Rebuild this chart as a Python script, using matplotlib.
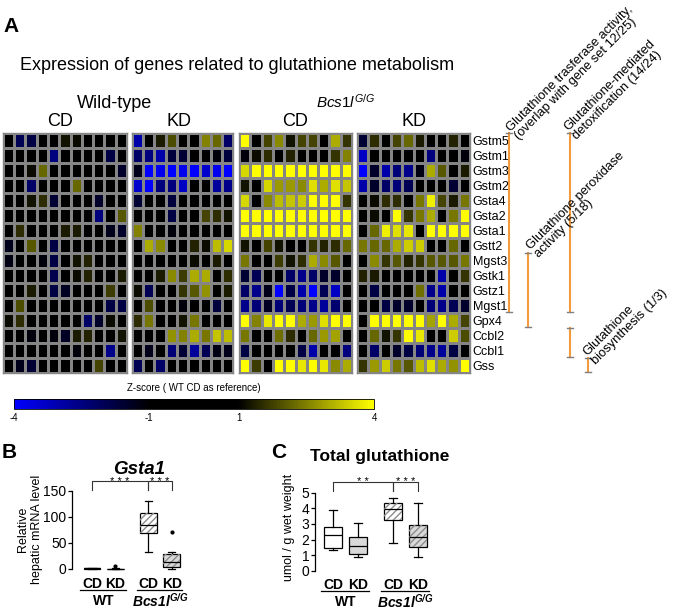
import numpy as np
import matplotlib.pyplot as plt
from matplotlib.colors import LinearSegmentedColormap
from matplotlib.patches import PathPatch
from matplotlib.transforms import blended_transform_factory

plt.rcParams['font.family'] = ['Liberation Sans', 'DejaVu Sans']
plt.rcParams['mathtext.fontset'] = 'custom'
plt.rcParams['mathtext.rm'] = 'Liberation Sans'
plt.rcParams['mathtext.it'] = 'Liberation Sans:italic'
plt.rcParams['mathtext.bf'] = 'Liberation Sans:bold'
plt.rcParams['mathtext.bfit'] = 'Liberation Sans:italic:bold'
plt.rcParams['axes.unicode_minus'] = False

# ---------------- data ----------------
genes = ['Gstm5', 'Gstm1', 'Gstm3', 'Gstm2', 'Gsta4', 'Gsta2', 'Gsta1', 'Gstt2',
         'Mgst3', 'Gstk1', 'Gstz1', 'Mgst1', 'Gpx4', 'Ccbl2', 'Ccbl1', 'Gss']

# z-scores (WT CD as reference), one row per gene
wt_cd = [
    [0, -2.0, -1.8, 0, 0, 1.2, 1.1, 0, 0, 0, 0],
    [0, 0, 0, 0, -2.5, 0, 0, 0, 0, -1.8, 0],
    [0, 0, 1.1, 2.2, 0, 0, 0, 0, 0, 0, -1.5],
    [0, 0, -2.2, 0, 0, 0, 2.2, 0, 0, 0, 0],
    [0, 0, 1.2, 1.5, -1.6, 0, 0, 0, -1.5, 0, 0],
    [0, 0, 0, 0, 0, 0, 0, 0, -2.5, 0, 2.0],
    [0, 1.5, 0, 0, 0, 1.3, 1.3, 0, 0, -1.3, -1.5],
    [-1.3, 0, 2.0, 0, -1.8, 0, 0, 0, 0, 0, 0],
    [-1.2, 0, 0, -1.1, -1.8, 0, 1.2, 1.4, 0, 0, 0],
    [0, 0, 0, 0, -1.9, 0, 1.1, 1.4, 0, 0, 1.3],
    [0, 0, 1.3, 0, -1.8, -1.4, 0, 0, 0, 1.7, 0],
    [0, 1.9, 0, 0, 0, 0, 0, 0, 0, -1.8, -1.8],
    [1.1, 1.5, 0, 0, 0, 0, 0, -2.2, -1.5, 1.1, 0],
    [0, 0, -1.1, 0, -1.1, -1.4, 1.3, 1.4, 0, 0, 1.2],
    [0, 0, 0, 0, 0, 0, -1.1, 0, 0, -2.6, 0],
    [0, -1.3, -1.6, 0, 0, 0, 0, 0, 1.8, 0, 0],
]
wt_kd = [
    [-3.0, 0, 1.3, 1.9, 0, 0, 2.5, 2.2, -2.2],
    [-2.2, -2.5, -3.0, -1.7, -1.6, 0, 0, -1.1, -1.7],
    [-1.3, -4.0, -3.8, -4.0, -3.8, -4.0, -3.4, -3.8, -4.0],
    [-3.4, -4.0, -2.5, -2.5, -3.3, 0, 0, -2.8, -2.6],
    [-1.6, 0, 0, -1.7, 0, 0, 0, 0, 0],
    [0, 0, 0, -1.8, 0, 0, 1.8, 1.5, 1.2],
    [2.5, 0, 0, -1.1, 0, 0, 0, 0, 0],
    [0, 3.0, 2.6, 0, 0, 1.4, 1.1, 3.2, 3.5],
    [0, 0, 0, 0, 0, 1.1, 0, 1.3, 0],
    [0, 0, 1.3, 2.6, 1.7, 3.0, 3.0, 0, 1.5],
    [1.1, -2.0, 0, 0, 1.6, 2.0, 2.7, 0, 1.3],
    [0, 1.9, 0, 0, -1.1, 0, 0, -1.7, 0],
    [1.5, 2.4, 0, 0, 1.2, 2.4, 0, 0, 0],
    [0, 0, 0, 2.7, 2.5, 3.0, 2.4, 3.3, 3.2],
    [0, -1.3, 0, -2.4, -1.6, -2.8, -2.0, -1.2, -1.3],
    [-2.0, 0, -2.2, 0, 0, 0, 0, 0, 0],
]
bcs_cd = [
    [4.0, 0, 1.8, 2.6, 1.2, 1.8, 1.8, 0, 3.0, 1.6],
    [-1.1, 1.1, 1.5, 0, 1.4, 0, 0, 0, 1.6, 2.5],
    [3.5, 4.0, 4.0, 4.0, 4.0, 4.0, 4.0, 4.0, 4.0, 4.0],
    [1.2, 0, 3.5, 2.8, 2.8, 2.6, 3.6, 3.0, 3.6, 3.3],
    [3.5, 0, 2.6, 3.2, 3.3, 3.4, 4.0, 4.0, 4.0, 1.6],
    [4.0, 4.0, 4.0, 4.0, 4.0, 4.0, 4.0, 4.0, 4.0, 4.0],
    [4.0, 4.0, 4.0, 4.0, 4.0, 4.0, 4.0, 4.0, 4.0, 4.0],
    [1.2, 0, 1.8, 1.2, 0, 0, 1.6, 1.4, 1.5, 2.2],
    [2.4, 0, 0, 1.7, 1.2, 1.5, 3.0, 2.6, 2.0, 0],
    [-1.6, -2.0, 0, 0, -2.2, -2.6, -2.2, -1.5, -1.5, 0],
    [-2.2, -2.6, -1.3, -4.0, -1.8, -3.0, -4.0, -2.0, -3.3, 0],
    [-2.6, -2.4, -1.4, -2.4, -2.0, -2.4, -2.6, -2.8, -2.3, 0],
    [4.0, 2.5, 3.7, 4.0, 4.0, 3.0, 2.8, 3.6, 4.0, 4.0],
    [2.4, 0, 0, 2.3, 1.5, 0, 2.2, 2.8, 2.9, 0],
    [-1.8, 0, 0, 0, 0, -1.8, -3.0, 0, 0, -2.5],
    [4.0, 1.7, 0, 4.0, 4.0, 3.7, 4.0, 3.7, 2.6, 3.0],
]
bcs_kd = [
    [-1.6, 1.5, 0, 1.8, 2.2, 1.3, 0, 0, 1.4, 0],
    [-3.3, 0, 0, 0, 0, 0, -2.5, 0, 0, -1.1],
    [-4.0, -1.5, -3.0, -2.4, -2.6, -1.2, 3.0, 2.0, 0, 1.3],
    [-3.0, -1.5, -2.2, -2.4, -2.0, 0, 0, 0, -1.6, 0],
    [0, 1.1, 1.5, 1.5, 0, 2.4, 3.8, 1.8, 1.3, 2.4],
    [0, 1.1, 0, 4.0, 1.6, 2.4, 3.0, 0, 2.4, 4.0],
    [0, 2.2, 3.8, 3.6, 3.7, 0, 4.0, 4.0, 4.0, 4.0],
    [2.4, 2.2, 2.2, 3.0, 3.4, 3.4, 0, 0, 2.2, 0],
    [0, 2.6, 1.6, 2.0, 1.4, 1.6, 2.0, 2.0, 2.0, 2.4],
    [1.4, 1.3, 0, 0, 0, 0, 0, -3.0, 0, 1.6],
    [0, -1.8, 0, 0, 0, 2.3, -2.6, -3.0, 0, 0],
    [0, 0, -1.8, -1.5, -1.5, 0, -2.4, -2.6, -2.0, -1.5],
    [0, 4.0, 4.0, 4.0, 4.0, 4.0, 2.9, 4.0, 3.0, 1.8],
    [0, 2.2, 1.2, 1.6, 4.0, 3.7, 0, 0, 3.4, 1.9],
    [0, -2.2, 0, -1.5, -1.8, -2.4, -2.6, -2.8, -1.8, 0],
    [1.6, 2.8, 3.4, 2.4, 2.0, 3.2, 3.6, 3.0, 2.7, 4.0],
]

# gene set annotations (first gene, last gene)
gene_sets = [
    ('Glutathione trasferase activity,\n(overlap with gene set 12/25)', [('Gstm5', 'Mgst1')], 9, (21, 0.6)),
    ('Glutathione-mediated\ndetoxification (14/24)', [('Gstm5', 'Mgst1'), ('Ccbl2', 'Ccbl1')], 70, (79, 0.6)),
    ('Glutathione peroxidase\nactivity (5/18)', [('Mgst3', 'Gpx4')], 28, (41, 8.5)),
    ('Glutathione\nbiosynthesis (1/3)', [('Gss', 'Gss')], 88, (98, 15.6)),
]

box_labels = ['CD', 'KD', 'CD', 'KD']
# box statistics: whislo, q1, med, q3, whishi, outliers
gsta1_stats = [
    (0.3, 0.6, 1.0, 1.4, 2.0, []),
    (0.1, 0.3, 0.6, 0.9, 1.3, [5]),
    (33, 70, 85, 108, 131, []),
    (0, 3, 13, 28, 32, [72]),
]
gsh_stats = [
    (1.3, 1.48, 2.29, 2.78, 3.9, []),
    (0.86, 1.07, 1.58, 2.18, 3.08, []),
    (1.75, 3.25, 3.94, 4.32, 4.66, []),
    (0.9, 1.54, 2.18, 2.93, 4.36, []),
]

# ---------------- figure ----------------
W, H = 675, 613
fig = plt.figure(figsize=(W / 100, H / 100), dpi=100)


def px_axes(x0, y0, x1, y1):
    return fig.add_axes([x0 / W, 1 - y1 / H, (x1 - x0) / W, (y1 - y0) / H])


def px_text(x, y, s, **kw):
    fig.text(x / W, 1 - y / H, s, **kw)


cmap = LinearSegmentedColormap.from_list(
    'zs', [(0, (0, 0, 1)), (3 / 8, (0, 0, 0)), (5 / 8, (0, 0, 0)), (1, (1, 1, 0))])

cell = 11.3
top, bottom = 133, 373
panels = [(wt_cd, 2.7), (wt_kd, 131.7), (bcs_cd, 239), (bcs_kd, 357)]
centers = []
for data, x0 in panels:
    arr = np.array(data)
    x1 = x0 + cell * arr.shape[1]
    centers.append((x0 + x1) / 2)
    ax = px_axes(x0, top, x1, bottom)
    mesh = ax.pcolormesh(arr, cmap=cmap, vmin=-4, vmax=4,
                         edgecolors='#858585', linewidth=0.8)
    ax.set_ylim(len(genes), 0)
    ax.set_xticks([])
    ax.set_yticks([])
    for s in ax.spines.values():
        s.set_color('#858585')
        s.set_linewidth(1.0)
ax.yaxis.tick_right()
ax.set_yticks(np.arange(len(genes)) + 0.5, genes, fontsize=9)
ax.tick_params(axis='y', length=0, pad=2)

px_text(3, 26, 'A', fontsize=15, fontweight='bold', va='center')
px_text(20, 65, 'Expression of genes related to glutathione metabolism',
        fontsize=13, va='center')
px_text(115, 103, 'Wild-type', fontsize=13, ha='center', va='center')
px_text(346, 102, r'$\mathit{Bcs1l}^{G/G}$', fontsize=11, ha='center', va='center')
for c, lab in zip([60, 179, 295, 414], box_labels):
    px_text(c, 122, lab, fontsize=13, ha='center', va='center')

# gene set brackets
ann = px_axes(500, top, 675, bottom)
ann.set_xlim(0, 175)
ann.set_ylim(len(genes), 0)
ann.axis('off')
for label, spans, x, (tx, ty) in gene_sets:
    for g0, g1 in spans:
        y0, y1 = genes.index(g0), genes.index(g1) + 1
        ann.plot([x, x], [y0, y1 - 0.05], color='#f39a3d', lw=1.5, clip_on=False)
        for yy in (y0, y1 - 0.05):
            ann.plot([x - 3, x + 3], [yy, yy], color='#7f7f7f', lw=1.0, clip_on=False)
    ann.text(tx, ty, label, rotation=45, rotation_mode='anchor', ha='left',
             va='bottom', fontsize=9.3, linespacing=1.0)

# colorbar
cax = px_axes(14, 399, 374, 409)
cb = fig.colorbar(mesh, cax=cax, orientation='horizontal', ticks=[-4, -1, 1, 4])
cb.ax.tick_params(labelsize=7, length=0, pad=3)
cb.outline.set_linewidth(0.6)
cax.text(0.5, 1.6, 'Z-score ( WT CD as reference)', transform=cax.transAxes,
         ha='center', va='bottom', fontsize=7)


# ---------------- box plots ----------------
def draw_box(ax, stats, pos, ymax, bracket, sig):
    bx = [dict(whislo=s[0], q1=s[1], med=s[2], q3=s[3], whishi=s[4], fliers=s[5])
          for s in stats]
    res = ax.bxp(bx, positions=pos, widths=0.72, capwidths=0.3, patch_artist=True,
                 boxprops=dict(linewidth=0.9, edgecolor='black'),
                 medianprops=dict(color='black', linewidth=0.9, zorder=4),
                 whiskerprops=dict(linewidth=0.9), capprops=dict(linewidth=0.9),
                 flierprops=dict(marker='o', markersize=2, markerfacecolor='black',
                                 markeredgecolor='black'))
    fills = ['white', '#d9d9d9', 'white', '#d9d9d9']
    for i, b in enumerate(res['boxes']):
        b.set_facecolor(fills[i])
        if i >= 2:
            ax.add_patch(PathPatch(b.get_path(), facecolor='none', edgecolor='#8c8c8c',
                                   hatch='/////', lw=0, zorder=2.5))
    for sp in ('top', 'right', 'bottom'):
        ax.spines[sp].set_visible(False)
    ax.spines['left'].set_bounds(0, ymax)
    ax.spines['left'].set_linewidth(0.9)
    ax.tick_params(axis='y', labelsize=10, length=3, width=0.9, pad=1)
    ax.set_xticks(pos, box_labels, fontsize=10, fontweight='bold')
    ax.tick_params(axis='x', length=0, pad=2)
    # significance brackets
    top_y, leg_y = bracket
    for (a, b), s in zip([(pos[0], pos[2]), (pos[2], pos[3])], sig):
        ax.plot([a, a, b, b], [leg_y, top_y, top_y, leg_y], color='#333333',
                lw=0.8, clip_on=False)
        ax.annotate(s, xy=((a + b) / 2, top_y), xytext=(0, -2.5),
                    textcoords='offset points', ha='center', va='baseline',
                    fontsize=8, annotation_clip=False)
    # group labels
    tr = blended_transform_factory(ax.transData, ax.transAxes)
    for (a, b), lab in zip([(pos[0], pos[1]), (pos[2], pos[3])],
                           ['WT', r'$\mathbfit{Bcs1l}^{\mathbfit{G/G}}$']):
        ax.plot([a - 0.5, b + 0.45], [-0.165, -0.165], color='black', lw=0.9,
                transform=tr, clip_on=False)
        ax.text((a + b) / 2, -0.28, lab, transform=tr, ha='center', va='center',
                fontsize=10, fontweight='bold')


pos = [1, 2, 3.4, 4.4]

axb = px_axes(72, 478, 190, 574.2)
axb.set_xlim(0.15, 5.17)
axb.set_ylim(-10, 175)
axb.set_yticks([0, 50, 100, 150])
draw_box(axb, gsta1_stats, pos, 150, (169, 152), ['* * *', '* * *'])
axb.set_ylabel('Relative\nhepatic mRNA level', fontsize=9)
axb.yaxis.set_label_coords(-0.245, 0.47)
px_text(2, 452, 'B', fontsize=15, fontweight='bold', va='center')
px_text(139, 474, 'Gsta1', fontsize=13.5, fontweight='bold', fontstyle='italic',
        ha='center', va='baseline')

axc = px_axes(315, 480.2, 435, 575.4)
axc.set_xlim(0.28, 5.08)
axc.set_ylim(-0.3, 5.8)
axc.set_yticks([0, 1, 2, 3, 4, 5])
draw_box(axc, gsh_stats, pos, 5, (5.69, 5.1), ['* *', '* * *'])
axc.set_ylabel('umol / g wet weight', fontsize=9)
axc.yaxis.set_label_coords(-0.17, 0.5)
px_text(271, 452, 'C', fontsize=15, fontweight='bold', va='center')
px_text(380, 457, 'Total glutathione', fontsize=12.5, fontweight='bold',
        ha='center', va='center')

fig.savefig('out.png', dpi=100)
